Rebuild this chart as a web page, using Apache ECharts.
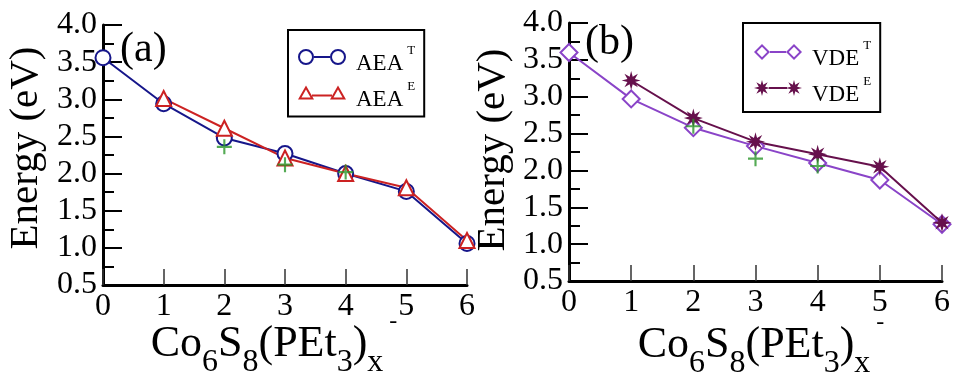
<!DOCTYPE html>
<html>
<head>
<meta charset="utf-8">
<script src="https://cdn.jsdelivr.net/npm/echarts@6/dist/echarts.min.js"></script>
<style>
html, body { margin: 0; padding: 0; background: #fff; }
#chart { width: 955px; height: 377px; }
</style>
</head>
<body>
<div id="chart"></div>
<script>
// number of PEt3 ligands, x
var ligands = [0, 1, 2, 3, 4, 5, 6];
// panel (a): adiabatic electron affinity
var aeaTheory = [3.56, 2.94, 2.48, 2.27, 2.00, 1.76, 1.06];
var aeaExpt = [null, 3.01, 2.61, 2.21, 2.00, 1.81, 1.10];
// panel (b): vertical detachment energy
var vdeTheory = [3.60, 2.97, 2.58, 2.33, 2.10, 1.87, 1.27];
var vdeExpt = [null, 3.22, 2.71, 2.39, 2.22, 2.05, 1.29];
// green crosses
var crossX = [2, 3, 4];
var crossA = [2.36, 2.12, 2.02];
var crossB = [2.60, 2.16, 2.06];

var serif = "'Liberation Serif', 'Times New Roman', serif";
var cBlue = '#16168a', cRed = '#cc2222', cViolet = '#8a44c8', cPlum = '#66104c', cGreen = '#2a962a';

function pairs(xs, ys) {
  var out = [];
  for (var i = 0; i < xs.length; i++) {
    if (ys[i] != null) out.push([xs[i], ys[i]]);
  }
  return out;
}

// symbol shapes
function starPts(cx, cy, R, r) {
  var s = '';
  for (var k = 0; k < 16; k++) {
    var a = Math.PI * k / 8;
    var rr = k % 2 == 0 ? R : r;
    s += (k == 0 ? 'M' : 'L') + (cx + rr * Math.sin(a)).toFixed(2) + ',' + (cy - rr * Math.cos(a)).toFixed(2);
  }
  return s + 'Z';
}
function ring(cx, cy, R, w) {
  var r = R - w;
  return 'M' + (cx - R) + ',' + cy + 'A' + R + ',' + R + ',0,1,0,' + (cx + R) + ',' + cy +
    'A' + R + ',' + R + ',0,1,0,' + (cx - R) + ',' + cy + 'Z' +
    'M' + (cx - r) + ',' + cy + 'A' + r + ',' + r + ',0,1,1,' + (cx + r) + ',' + cy +
    'A' + r + ',' + r + ',0,1,1,' + (cx - r) + ',' + cy + 'Z';
}
function tri(cx) {
  return 'M' + (cx - 8) + ',15L' + cx + ',1L' + (cx + 8) + ',15Z' +
    'M' + (cx - 4.55) + ',13L' + (cx + 4.55) + ',13L' + cx + ',5.03Z';
}
function dia(cx) {
  return 'M' + (cx - 8) + ',8L' + cx + ',0L' + (cx + 8) + ',8L' + cx + ',16Z' +
    'M' + (cx - 5.2) + ',8L' + cx + ',13.2L' + (cx + 5.2) + ',8L' + cx + ',2.8Z';
}
var pad = 'M0,30Z'; // stretches icon box downwards so text sits lower
var iconCircle = 'path://' + ring(8, 8, 8, 2) + ring(40, 8, 8, 2) + 'M16,7H32V9H16Z' + pad;
var iconTri = 'path://' + tri(8) + tri(40) + 'M14,10H34V12H14Z' + pad;
var iconDia = 'path://' + dia(8) + dia(40) + 'M16,7H32V9H16Z' + pad;
var iconStar = 'path://' + starPts(8, 8, 8, 3.4) + starPts(40, 8, 8, 3.4) + 'M15,7H33V9H15Z' + pad;
var symStar = 'path://' + starPts(8, 8, 8, 3.4);
var symCross = 'path://M6,0H8V6H14V8H8V14H6V8H0V6H6Z';

var chart = echarts.init(document.getElementById('chart'));

function xAx(grid, gap, padding) {
  return {
    gridIndex: grid, type: 'value', min: 0, max: 6, interval: 1,
    axisLine: { show: true, onZero: false, lineStyle: { color: '#000', width: 3 } },
    axisTick: { show: true, inside: true, length: 16, lineStyle: { color: '#333', width: 1.5 } },
    axisLabel: { fontSize: 32, fontFamily: serif, color: '#000', margin: 6 },
    splitLine: { show: false },
    name: '{m|Co}{s|6}{m|S}{s|8}{m|(PEt}{s|3}{m|)}{s|x}{p|-}',
    nameLocation: 'middle', nameGap: gap, nameMoveOverlap: false,
    nameTextStyle: {
      padding: padding,
      rich: {
        m: { fontSize: 44, lineHeight: 69, fontFamily: serif, color: '#000' },
        s: { fontSize: 32, lineHeight: 32, verticalAlign: 'bottom', fontFamily: serif, color: '#000' },
        p: { fontSize: 24, lineHeight: 29, verticalAlign: 'top', fontFamily: serif, color: '#000', padding: [0, 0, 0, 6] }
      }
    }
  };
}
function yAx(grid, gap, padding) {
  return {
    gridIndex: grid, type: 'value', min: 0.5, max: 4, interval: 0.5,
    axisLine: { show: true, onZero: false, lineStyle: { color: '#000', width: 3 } },
    axisTick: { show: true, inside: true, length: 19, lineStyle: { color: '#000', width: 2 } },
    minorTick: { show: true, splitNumber: 2, length: 11, lineStyle: { color: '#000', width: 2 } },
    axisLabel: { fontSize: 32, fontFamily: serif, color: '#000', margin: 6, formatter: function (v) { return v.toFixed(1); } },
    splitLine: { show: false },
    name: 'Energy (eV)', nameLocation: 'middle', nameGap: gap, nameMoveOverlap: false,
    nameTextStyle: { fontSize: 41, fontFamily: serif, color: '#000', padding: padding }
  };
}
function legendBox(left, top, padding, items) {
  return {
    orient: 'vertical', left: left, top: top, padding: padding,
    itemWidth: 48, itemHeight: 30, itemGap: 1,
    borderColor: '#000', borderWidth: 2, backgroundColor: '#fff',
    data: items,
    formatter: function (name) { return '{n|' + name.slice(0, 3) + '}{t|' + name.slice(3) + '}'; },
    textStyle: {
      padding: [0, 0, 0, 5],
      rich: {
        n: { fontSize: 23, lineHeight: 28, fontFamily: serif, color: '#000' },
        t: { fontSize: 13, verticalAlign: 'top', fontFamily: serif, color: '#000', padding: [-6, 0, 0, 4] }
      }
    }
  };
}
function lineSeries(name, ax, data, color, symbol, size, bw) {
  return {
    name: name, type: 'line', xAxisIndex: ax, yAxisIndex: ax,
    data: data, symbol: symbol, symbolSize: size,
    lineStyle: { color: color, width: 2 },
    itemStyle: { color: color, borderWidth: bw },
    emphasis: { disabled: true }, animation: false
  };
}
function crossSeries(name, ax, data) {
  return {
    name: name, type: 'scatter', xAxisIndex: ax, yAxisIndex: ax,
    data: data, symbol: symCross, symbolSize: 15, z: 5,
    itemStyle: { color: cGreen }, animation: false
  };
}

chart.setOption({
  animation: false,
  grid: [
    { left: 103, top: 25, width: 364, height: 260, outerBoundsMode: 'none', containLabel: false },
    { left: 569, top: 23, width: 373, height: 258, outerBoundsMode: 'none', containLabel: false }
  ],
  xAxis: [xAx(0, 25, [0, 22, 0, 0]), xAx(1, 30, [0, 0, 0, 11])],
  yAxis: [yAx(0, 56, [0, 0, 0, 14]), yAx(1, 55, [0, 0, 0, 4])],
  legend: [
    legendBox(288, 30, [14, 9, 2, 10], [
      { name: 'AEAT', icon: iconCircle, itemStyle: { color: cBlue, borderWidth: 0 } },
      { name: 'AEAE', icon: iconTri, itemStyle: { color: cRed, borderWidth: 0 } }
    ]),
    legendBox(743, 23, [16, 9, 2, 11], [
      { name: 'VDET', icon: iconDia, itemStyle: { color: cViolet, borderWidth: 0 } },
      { name: 'VDEE', icon: iconStar, itemStyle: { color: cPlum, borderWidth: 0 } }
    ])
  ],
  graphic: [
    { type: 'text', left: 120, top: 29, style: { text: '(a)', fontSize: 42, fontFamily: serif, fill: '#000' } },
    { type: 'text', left: 585, top: 22, style: { text: '(b)', fontSize: 42, fontFamily: serif, fill: '#000' } }
  ],
  series: [
    lineSeries('AEAT', 0, pairs(ligands, aeaTheory), cBlue, 'emptyCircle', 15, 2),
    lineSeries('AEAE', 0, pairs(ligands, aeaExpt), cRed, 'emptyTriangle', 15, 2),
    crossSeries('crossA', 0, pairs(crossX, crossA)),
    lineSeries('VDET', 1, pairs(ligands, vdeTheory), cViolet, 'emptyDiamond', 17, 2),
    lineSeries('VDEE', 1, pairs(ligands, vdeExpt), cPlum, symStar, 19, 0),
    crossSeries('crossB', 1, pairs(crossX, crossB))
  ]
});
</script>
</body>
</html>
